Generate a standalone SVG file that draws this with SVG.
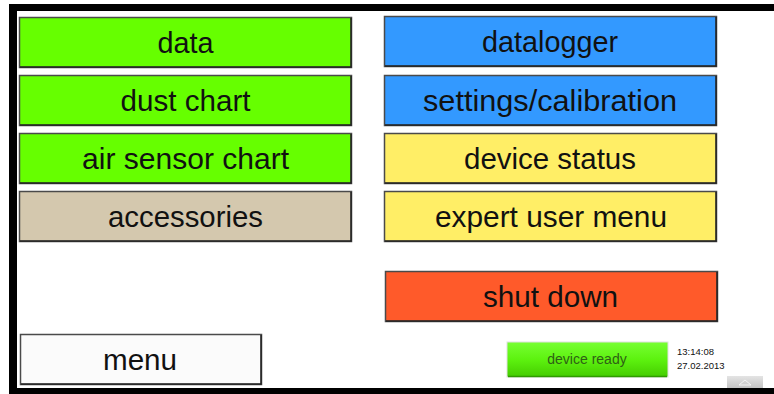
<svg xmlns="http://www.w3.org/2000/svg" width="774" height="394" viewBox="0 0 774 394">
<defs>
<style>
.btn{stroke:#4a4a4a;stroke-width:1.5}
.sh{fill:none;stroke:#222;stroke-width:1.5}
.lbl{font-family:"Liberation Sans",Arial,sans-serif;font-size:29px;fill:#111;text-anchor:middle}
.sm{font-family:"Liberation Sans",Arial,sans-serif;font-size:9.5px;fill:#111}
</style>
<linearGradient id="gr" x1="0" y1="0" x2="0" y2="1">
<stop offset="0" stop-color="#77ff33"/>
<stop offset="0.5" stop-color="#5df20f"/>
<stop offset="1" stop-color="#44cc00"/>
</linearGradient>
<linearGradient id="gb" x1="0" y1="0" x2="0" y2="1">
<stop offset="0" stop-color="#e4e4e4"/>
<stop offset="1" stop-color="#c4c4c4"/>
</linearGradient>
</defs>
<rect width="774" height="394" fill="#ffffff"/>
<g id="frame">
<rect x="9" y="4" width="765" height="7" fill="#000"/>
<rect x="9" y="4" width="8" height="390" fill="#000"/>
<rect x="9" y="388" width="765" height="6" fill="#000"/>
</g>
<g id="connectors"></g>
<g id="btn-data">
<rect class="btn" x="19.5" y="17.5" width="332" height="50" fill="#66ff00"/>
<polyline class="sh" points="20,67 351,67 351,18"/>
<text class="lbl" x="185.5" y="53" textLength="56" lengthAdjust="spacingAndGlyphs">data</text>
</g>
<g id="btn-dust">
<rect class="btn" x="19.5" y="75.5" width="332" height="50" fill="#66ff00"/>
<polyline class="sh" points="20,125 351,125 351,76"/>
<text class="lbl" x="185.5" y="111" textLength="130" lengthAdjust="spacingAndGlyphs">dust chart</text>
</g>
<g id="btn-air">
<rect class="btn" x="19.5" y="133.5" width="332" height="50" fill="#66ff00"/>
<polyline class="sh" points="20,183 351,183 351,134"/>
<text class="lbl" x="185.5" y="169" textLength="207" lengthAdjust="spacingAndGlyphs">air sensor chart</text>
</g>
<g id="btn-accessories">
<rect class="btn" x="19.5" y="191.5" width="332" height="50" fill="#d4c8ae"/>
<polyline class="sh" points="20,241 351,241 351,192"/>
<text class="lbl" x="185.5" y="227" textLength="155" lengthAdjust="spacingAndGlyphs">accessories</text>
</g>
<g id="btn-menu">
<rect class="btn" x="20.5" y="334.5" width="241" height="50" fill="#fbfbfb"/>
<polyline class="sh" points="21,384 261,384 261,335" stroke="#555"/>
<text class="lbl" x="140" y="370" textLength="74" lengthAdjust="spacingAndGlyphs">menu</text>
</g>
<g id="btn-datalogger">
<rect class="btn" x="384.5" y="16.5" width="332" height="50" fill="#3399ff"/>
<polyline class="sh" points="385,66 716,66 716,17"/>
<text class="lbl" x="550" y="52" textLength="136" lengthAdjust="spacingAndGlyphs">datalogger</text>
</g>
<g id="btn-settings">
<rect class="btn" x="384.5" y="75.5" width="332" height="50" fill="#3399ff"/>
<polyline class="sh" points="385,125 716,125 716,76"/>
<text class="lbl" x="550" y="111" textLength="254" lengthAdjust="spacingAndGlyphs">settings/calibration</text>
</g>
<g id="btn-status">
<rect class="btn" x="384.5" y="133.5" width="332" height="50" fill="#ffee66"/>
<polyline class="sh" points="385,183 716,183 716,134"/>
<text class="lbl" x="550" y="169" textLength="172" lengthAdjust="spacingAndGlyphs">device status</text>
</g>
<g id="btn-expert">
<rect class="btn" x="384.5" y="191.5" width="332" height="50" fill="#ffee66"/>
<polyline class="sh" points="385,241 716,241 716,192"/>
<text class="lbl" x="551" y="227" textLength="232" lengthAdjust="spacingAndGlyphs">expert user menu</text>
</g>
<g id="btn-shutdown">
<rect class="btn" x="385.5" y="271.5" width="332" height="50" fill="#ff5a2a"/>
<polyline class="sh" points="386,321 717,321 717,272"/>
<text class="lbl" x="550.5" y="307" textLength="135" lengthAdjust="spacingAndGlyphs">shut down</text>
</g>
<g id="status-ready">
<rect x="507" y="342" width="161" height="35" fill="url(#gr)" stroke="#e0e0e0" stroke-width="1"/>
<line x1="508" y1="376.5" x2="667" y2="376.5" stroke="#2f9a00" stroke-width="1.5"/>
<text x="587" y="364" font-family="'Liberation Sans',Arial,sans-serif" font-size="14px" fill="#2f5f16" text-anchor="middle">device ready</text>
</g>
<g id="clock">
<text class="sm" x="677" y="355">13:14:08</text>
<text class="sm" x="677" y="369">27.02.2013</text>
</g>
<g id="scroll-btn">
<rect x="727" y="376" width="36" height="12" fill="url(#gb)"/>
<polyline points="739,385 745,380 751,385 739,385" fill="none" stroke="#f4f4f4" stroke-width="1"/>
</g>
</svg>
